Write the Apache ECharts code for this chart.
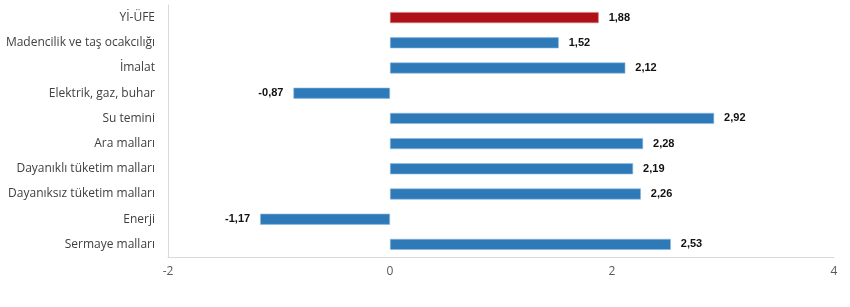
<!DOCTYPE html>
<html><head><meta charset="utf-8">
<script src="https://cdn.jsdelivr.net/npm/echarts@6/dist/echarts.min.js"></script>
<style>html,body{margin:0;padding:0;background:#fff}#c{width:850px;height:307px}</style>
</head><body><div id="c"></div>
<script>
const categories = ["Yİ-ÜFE","Madencilik ve taş ocakcılığı","İmalat","Elektrik, gaz, buhar","Su temini","Ara malları","Dayanıklı tüketim malları","Dayanıksız tüketim malları","Enerji","Sermaye malları"];
const values = [1.88,1.52,2.12,-0.87,2.92,2.28,2.19,2.26,-1.17,2.53];
const highlightIndex = 0;
const xTicks = [-2,0,2,4];

const chart = echarts.init(document.getElementById('c'));
chart.setOption({
  animation:false,
  grid:{left:168,right:16,top:5,bottom:50,containLabel:false},
  xAxis:{type:'value',min:xTicks[0],max:xTicks[xTicks.length-1],interval:2,
    axisLine:{show:true,lineStyle:{color:'#d9d9d9'}},axisTick:{show:false},splitLine:{show:false},
    axisLabel:{color:'#595959',fontFamily:'Open Sans',fontSize:12,margin:9}},
  yAxis:{type:'category',data:categories,inverse:true,
    axisLine:{show:true,onZero:false,lineStyle:{color:'#d9d9d9'}},axisTick:{show:false},
    axisLabel:{color:'#404040',fontFamily:'Open Sans',fontSize:12,margin:13}},
  series:[{type:'bar',barWidth:11,
    data:values.map((v,i)=>({value:v,itemStyle:{color:i===highlightIndex?'#ae1118':'#2e7ab8',borderColor:i===highlightIndex?'#d77a7f':'#8dbbe0',borderWidth:0.6},
      label:{position:v<0?'left':'right'}})),
    label:{show:true,distance:10,fontFamily:'Liberation Sans',fontWeight:'bold',fontSize:11,color:'#111',
      formatter:p=>p.value.toFixed(2).replace('.',',')}}]
});
</script></body></html>
